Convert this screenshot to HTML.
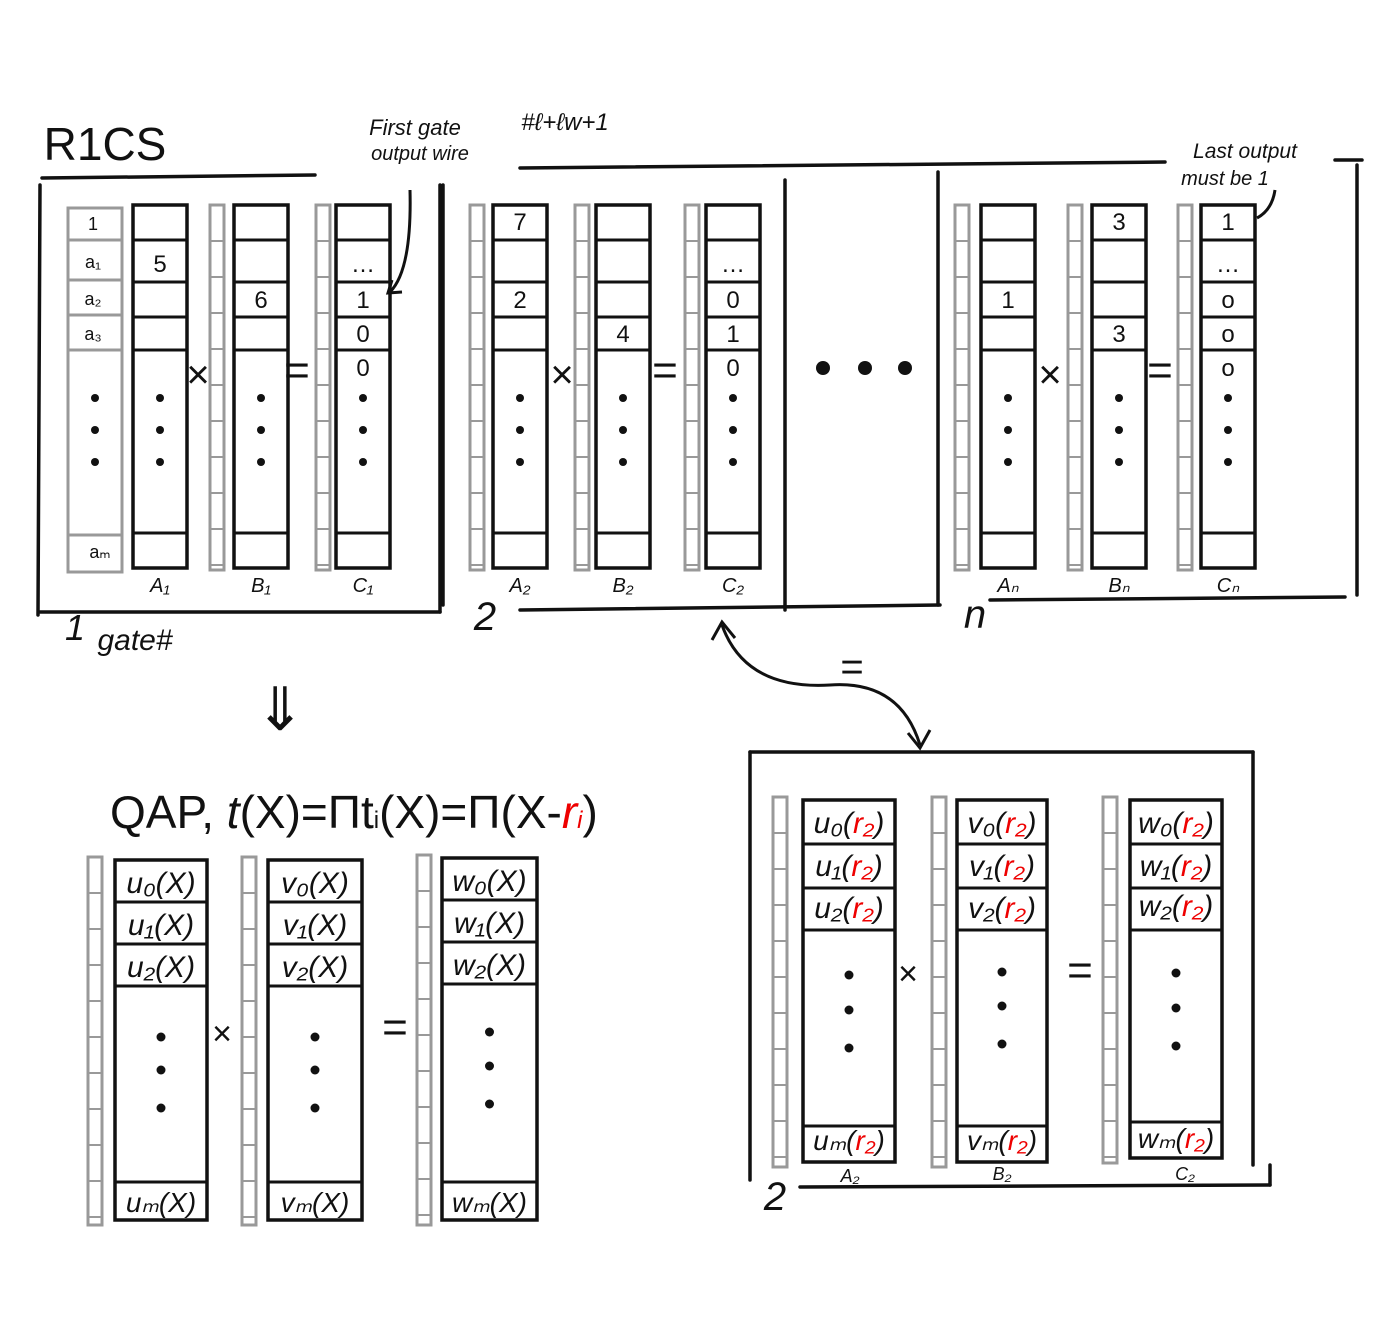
<!DOCTYPE html>
<html><head><meta charset="utf-8">
<style>
html,body{margin:0;padding:0;background:#fff;width:1400px;height:1320px;overflow:hidden}
svg{display:block}
text{font-family:"Liberation Sans",sans-serif;fill:#111}
</style></head>
<body>
<svg id="s" width="1400" height="1320" viewBox="0 0 1400 1320" xmlns="http://www.w3.org/2000/svg"></svg>
<script>
const matrixLabels=["A₁","B₁","C₁","A₂","B₂","C₂","Aₙ","Bₙ","Cₙ"];
const gate1Values=[["","5","","",""],["","","6","",""],["","…","1","0","0"]];
const gate2Values=[["7","","2","",""],["","","","4",""],["","…","0","1","0"]];
const gateNValues=[["","","1","",""],["3","","","3",""],["1","…","o","o","o"]];
const witnessLabels=["1","a₁","a₂","a₃"];
const polyU=["u₀(X)","u₁(X)","u₂(X)","uₘ(X)"];
const polyV=["v₀(X)","v₁(X)","v₂(X)","vₘ(X)"];
const polyW=["w₀(X)","w₁(X)","w₂(X)","wₘ(X)"];

const NS="http://www.w3.org/2000/svg";
const svg=document.getElementById('s');
function el(tag,attrs,name,parent){
  const e=document.createElementNS(NS,tag);
  for(const k in attrs)e.setAttribute(k,attrs[k]);
  
  
  (parent||svg).appendChild(e);return e;
}
function line(x1,y1,x2,y2,name,col,w){return el('line',{x1,y1,x2,y2,stroke:col||'#111','stroke-width':w||3.5,'stroke-linecap':'round'},name);}
function txt(x,y,s,size,name,opt){
  const t=el('text',Object.assign({x,y,'font-size':size,'text-anchor':'middle'},opt||{}),name);
  t.textContent=s;return t;
}
function poly(x,y,s,size,name){
  const t=el('text',{x,y,'font-size':size,'text-anchor':'middle','font-family':'Liberation Serif, serif','font-style':'italic'},name);
  const parts=s.split('|');
  parts.forEach((p,i)=>{const ts=document.createElementNS(NS,'tspan');ts.textContent=p;if(i%2==1)ts.setAttribute('fill','#e00');t.appendChild(ts);});
}
function column(x,y,w,h,rowYs,bottomY,name,color){
  const c=color||'#111';
  el('rect',{x,y,width:w,height:h,fill:'none',stroke:c,'stroke-width':color?3:3.5},name);
  rowYs.forEach((ry,i)=>line(x,y+ry,x+w,y+ry,name+'-row-'+i,c,3));
  if(bottomY)line(x,y+bottomY,x+w,y+bottomY,name+'-bottom-row',c,3);
}
function strip(x,y,h,name){
  el('rect',{x,y,width:14,height:h,fill:'none',stroke:'#999','stroke-width':3},name);
  for(let i=1;i<h/36;i++)line(x,y+i*36,x+14,y+i*36,name+'-rung',"#999",2);
}
function dots(x,ys,name,r){ys.forEach((yy,i)=>el('circle',{cx:x,cy:yy,r:r||4,fill:'#111'},name+'-dot-'+i));}

txt(105,160,"R1CS",46,"r1cs-title");
line(42,178,315,175,"r1cs-underline");
txt(415,135,"First gate",22,"first-gate-note",{'font-style':'italic'});
txt(420,160,"output wire",20,"output-wire-note",{'font-style':'italic'});
txt(565,130,"#ℓ+ℓw+1",24,"wire-index-note",{'font-style':'italic'});
el('path',{d:"M410 190 Q412 270 390 292",fill:'none',stroke:'#111','stroke-width':3},"first-gate-arrow");
el('path',{d:"M392 280 L388 293 L402 292",fill:'none',stroke:'#111','stroke-width':3},"first-gate-arrowhead");
txt(1245,158,"Last output",21,"last-output-note",{'font-style':'italic'});
txt(1225,185,"must be 1",20,"must-be-one-note",{'font-style':'italic'});
line(1335,160,1362,160,"note-dash");
el('path',{d:"M1275 190 Q1272 210 1257 218",fill:'none',stroke:'#111','stroke-width':3},"last-output-arrow");

line(40,185,38,615,"panel1-left");line(40,612,440,612,"panel1-bottom");line(440,185,440,612,"panel1-right");
line(520,168,1165,162,"panel-top-line");
line(443,185,443,605,"panel2-left");line(785,180,785,610,"panel2-right");line(520,610,940,605,"panel2-bottom");
line(938,172,938,605,"panel-n-left");line(1357,165,1357,595,"panel-n-right");line(990,600,1345,597,"panel-n-bottom");
txt(75,640,"1",36,"gate-1-label",{'font-style':'italic'});
txt(135,650,"gate#",30,"gate-hash-label",{'font-style':'italic'});
txt(485,630,"2",40,"gate-2-label",{'font-style':'italic'});
txt(975,628,"n",40,"gate-n-label",{'font-style':'italic'});
dots(823,[368],"ellipsis-a",7);dots(865,[368],"ellipsis-b",7);dots(905,[368],"ellipsis-c",7);

const rows=[35,77,112,145];
function gate(xs,stripsX,vals,labels,opX,eqX,prefix,witness){
  if(witness){
    column(68,208,54,364,[32,72,107,142],327,prefix+'-witness','#999');
    witnessLabels.forEach((s,i)=>txt(93,[230,268,305,340][i],s,18,'witness-label-'+i,{fill:'#999'}));
    txt(100,558,"aₘ",18,"witness-label-m",{fill:'#999'});
    dots(95,[398,430,462],"witness",4);
  }
  stripsX.forEach((sx,i)=>strip(sx,205,365,prefix+'-strip-'+i));
  xs.forEach((x,i)=>{
    column(x,205,54,363,rows,328,prefix+'-col-'+labels[i]);
    vals[i].forEach((v,j)=>{if(v)txt(x+27,[230,272,308,342,376][j],v,24,prefix+'-cell-'+i+'-'+j);});
    dots(x+27,[398,430,462],prefix+'-col-'+i,4);
    txt(x+27,592,labels[i],20,prefix+'-label-'+labels[i],{'font-style':'italic'});
  });
  txt(opX,388,"×",40,prefix+'-times');
  txt(eqX,385,"=",44,prefix+'-equals');
}
gate([133,234,336],[210,316],gate1Values,matrixLabels.slice(0,3),198,297,'gate1',true);
gate([493,596,706],[470,575,685],gate2Values,matrixLabels.slice(3,6),562,665,'gate2',false);
gate([981,1092,1201],[955,1068,1178],gateNValues,matrixLabels.slice(6,9),1050,1160,'gateN',false);

txt(280,730,"⇓",60,"implies-arrow");

const q=el('text',{x:110,y:828,'font-size':46,'text-anchor':'start','font-family':'Liberation Sans, sans-serif'},"qap-formula");
q.innerHTML='QAP, <tspan font-style="italic">t</tspan>(X)=Πt<tspan font-size="24">i</tspan>(X)=Π(X-<tspan fill="#e00" font-style="italic">r<tspan font-size="24">i</tspan></tspan>)';

function qcol(x,y,w,h,labels,prefix,stripX,rowYs,bot,labelYs,bottomLabelY,dotYs){
  strip(stripX,y-3,h+8,prefix+'-strip');
  column(x,y,w,h,rowYs,bot,prefix);
  labels.slice(0,3).forEach((s,i)=>poly(x+w/2,labelYs[i],s,30,prefix+'-label-'+i));
  poly(x+w/2,bottomLabelY,labels[3],28,prefix+'-label-m');
  dots(x+w/2,dotYs,prefix,4.5);
}
const qr=[42,84,126],qd=[1037,1070,1108];
qcol(115,860,92,360,polyU,'qap-u',88,qr,322,[893,935,977],1212,qd);
qcol(268,860,94,360,polyV,'qap-v',242,qr,322,[893,935,977],1212,qd);
qcol(442,858,95,362,polyW,'qap-w',417,qr,324,[891,933,975],1212,[1032,1066,1104]);
txt(222,1045,"×",34,"qap-times");
txt(395,1042,"=",44,"qap-equals");

el('path',{d:"M722 625 Q745 690 830 685 Q900 680 920 745",fill:'none',stroke:'#111','stroke-width':3},"equivalence-arrow");
el('path',{d:"M712 640 L722 622 L735 638",fill:'none',stroke:'#111','stroke-width':3},"equivalence-arrowhead-top");
el('path',{d:"M908 733 L920 748 L930 730",fill:'none',stroke:'#111','stroke-width':3},"equivalence-arrowhead-bottom");
txt(852,680,"=",40,"equivalence-sign");

line(750,752,1253,752,"eval-panel-top");line(750,752,750,1180,"eval-panel-left");line(1253,752,1253,1165,"eval-panel-right");
line(800,1187,1270,1185,"eval-panel-bottom");line(1270,1165,1270,1185,"eval-panel-corner");
txt(775,1210,"2",40,"eval-gate-2-label",{'font-style':'italic'});
const ur=polyU.map(s=>s.replace('(X)','(|r₂|)')),vr=polyV.map(s=>s.replace('(X)','(|r₂|)')),wr=polyW.map(s=>s.replace('(X)','(|r₂|)'));
const er=[44,88,130],ed=[975,1010,1048];
qcol(803,800,92,362,ur,'eval-u',773,er,326,[833,876,918],1150,ed);
qcol(957,800,90,362,vr,'eval-v',932,er,326,[833,876,918],1150,[972,1006,1044]);
qcol(1130,800,92,358,wr,'eval-w',1103,er,322,[833,876,916],1148,[973,1008,1046]);
txt(908,985,"×",34,"eval-times");
txt(1080,985,"=",44,"eval-equals");
txt(850,1182,"A₂",18,"eval-label-a2",{'font-style':'italic'});
txt(1002,1180,"B₂",18,"eval-label-b2",{'font-style':'italic'});
txt(1185,1180,"C₂",18,"eval-label-c2",{'font-style':'italic'});
</script>
</body></html>
